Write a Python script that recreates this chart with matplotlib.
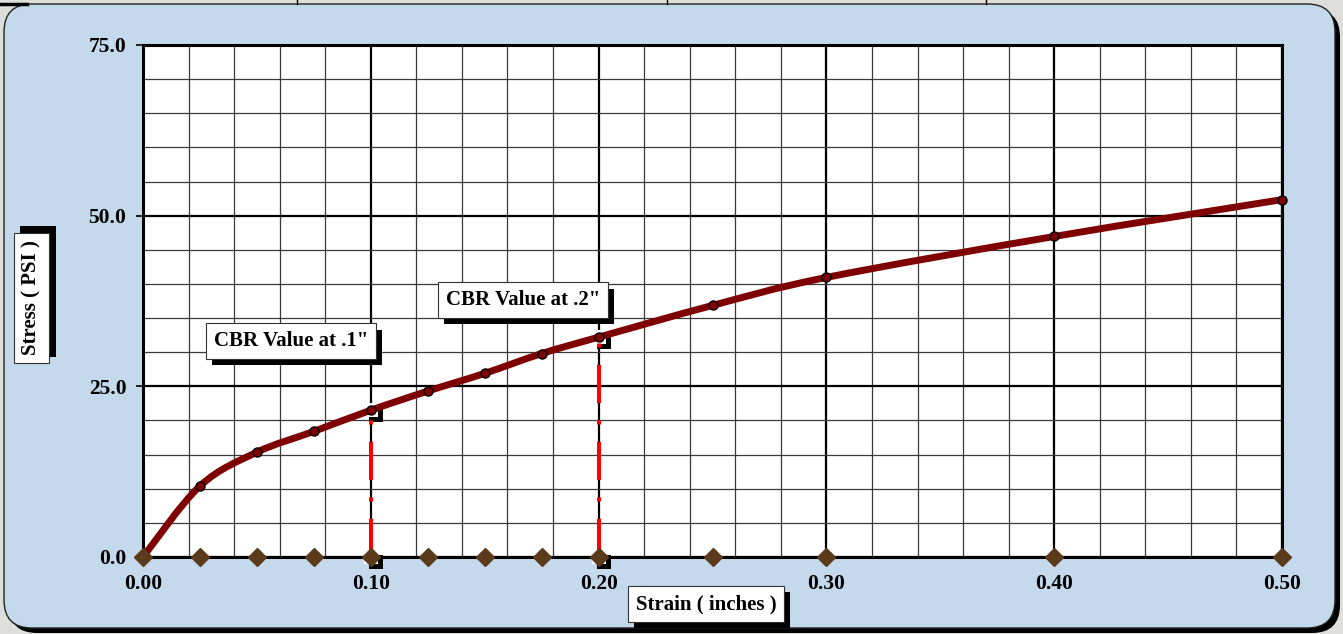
import numpy as np
import matplotlib
matplotlib.use("Agg")
import matplotlib.pyplot as plt
from matplotlib.patches import FancyBboxPatch, PathPatch
from matplotlib.path import Path
from matplotlib.lines import Line2D
import matplotlib.patheffects as pe
import matplotlib.transforms as mtransforms
from matplotlib.ticker import MultipleLocator, FormatStrFormatter

# ---------------- data ----------------
strain = [0.0, 0.025, 0.05, 0.075, 0.10, 0.125, 0.15, 0.175, 0.20, 0.25, 0.30, 0.40, 0.50]
stress = [0.0, 10.4, 15.35, 18.4, 21.5, 24.3, 26.9, 29.8, 32.2, 36.85, 40.95, 46.95, 52.35]
cbr_strain = [0.10, 0.20]
cbr_stress = [21.5, 32.2]
cbr_labels = ['CBR Value at .1"', 'CBR Value at .2"']
cbr_label_pos = [(0.065, 31.6), (0.1668, 37.6)]
x_label = "Strain ( inches )"
y_label = "Stress ( PSI )"

W, H, DPI = 1343, 634, 100
SERIF = ["Liberation Serif", "DejaVu Serif"]
plt.rcParams['font.family'] = SERIF
plt.rcParams['font.weight'] = 'bold'

fig = plt.figure(figsize=(W / DPI, H / DPI), dpi=DPI, facecolor="#DEDEDB")

# ---------------- background frame (pixel space) ----------------
bg = fig.add_axes([0, 0, 1, 1], zorder=-10)
bg.set_xlim(0, W)
bg.set_ylim(H, 0)
bg.axis("off")
bg.add_patch(FancyBboxPatch((9, 9), W - 12, H - 10,
                            boxstyle="round,pad=0,rounding_size=28",
                            facecolor="black", edgecolor="black", lw=0))
bg.add_patch(FancyBboxPatch((4, 4), W - 12, H - 10,
                            boxstyle="round,pad=0,rounding_size=28",
                            facecolor="#C5D9EC", edgecolor="#222222", lw=1.0))
bg.plot([0, 27], [4, 4], color="black", lw=2.5)
for xv in (297, 667, 986):
    bg.plot([xv, xv], [0, 4], color="black", lw=1)

# ---------------- main axes ----------------
ax = fig.add_axes([143 / W, 1 - 557 / H, (1282 - 143) / W, (557 - 45) / H])
ax.set_facecolor("white")
ax.set_xlim(0, 0.5)
ax.set_ylim(0, 75)

ax.xaxis.set_major_locator(MultipleLocator(0.1))
ax.xaxis.set_minor_locator(MultipleLocator(0.02))
ax.yaxis.set_major_locator(MultipleLocator(25))
ax.yaxis.set_minor_locator(MultipleLocator(5))
ax.xaxis.set_major_formatter(FormatStrFormatter("%.2f"))
ax.yaxis.set_major_formatter(FormatStrFormatter("%.1f"))

ax.grid(which="major", color="black", lw=1.6)
ax.grid(which="minor", color="#3a3a3a", lw=0.9)
ax.set_axisbelow(True)
for s in ax.spines.values():
    s.set_linewidth(2.2)
    s.set_color("black")

ax.tick_params(axis="x", which="both", length=0, pad=12, labelsize=15.5)
ax.tick_params(axis="y", which="major", length=5, width=1.2, direction="out", pad=7, labelsize=15.5)
ax.tick_params(axis="y", which="minor", length=0)
for lab in ax.get_xticklabels() + ax.get_yticklabels():
    lab.set_fontweight("bold")

# ---------------- smoothed curve (Excel-style Bezier) ----------------
px = np.array(strain)
py = np.array(stress)
n = len(px)
verts = [(px[0], py[0])]
codes = [Path.MOVETO]
for i in range(n - 1):
    p0 = np.array([px[max(i - 1, 0)], py[max(i - 1, 0)]])
    p1 = np.array([px[i], py[i]])
    p2 = np.array([px[i + 1], py[i + 1]])
    p3 = np.array([px[min(i + 2, n - 1)], py[min(i + 2, n - 1)]])
    c1 = p1 + (p2 - p0) / 6.0
    c2 = p2 - (p3 - p1) / 6.0
    verts += [tuple(c1), tuple(c2), tuple(p2)]
    codes += [Path.CURVE4] * 3
curve = PathPatch(Path(verts, codes), fill=False, edgecolor="#7F0000",
                  lw=5.0, capstyle="round", joinstyle="round", zorder=5)
ax.add_patch(curve)

# ---------------- red dash-dot verticals ----------------
for xv, yv in zip(cbr_strain, cbr_stress):
    ax.add_line(Line2D([xv, xv], [0, yv], color="#FF0000", lw=2.9,
                       dashes=(9.5, 4.3, 1.0, 4.3), dash_capstyle="butt",
                       zorder=3))

# ---------------- white squares with black shadow ----------------
sq_x = cbr_strain + cbr_strain
sq_y = [0, 0] + cbr_stress
shadow_tr = mtransforms.offset_copy(ax.transData, fig=fig, x=5, y=-5, units="dots")
ax.plot(sq_x, sq_y, ls="none", marker="s", ms=9.5, mfc="black", mec="black",
        mew=0, zorder=2.5, clip_on=False, transform=shadow_tr)
ax.plot(sq_x, sq_y, ls="none", marker="s", ms=9.5, mfc="white", mec="white",
        mew=0, zorder=2.6, clip_on=False)

# ---------------- markers ----------------
ax.plot(strain, stress, ls="none", marker="o", ms=6.5, mfc="#7F0000", mec="black",
        mew=1.0, zorder=6, clip_on=False)
ax.plot(strain, [0] * len(strain), ls="none", marker="D", ms=9.5, mfc="#5B3A1C",
        mec="#5B3A1C", zorder=7, clip_on=False)

# ---------------- text boxes with shadows ----------------
def shadow_box(txt, offset):
    bp = txt.get_bbox_patch()
    bp.set_path_effects([pe.SimplePatchShadow(offset=offset, shadow_rgbFace="black", alpha=1),
                         pe.Normal()])

BOX = dict(boxstyle="square,pad=0.38", fc="white", ec="#333333", lw=0.8)
for lab, (lx, ly) in zip(cbr_labels, cbr_label_pos):
    t = ax.text(lx, ly, lab, ha="center", va="center", fontsize=15, fontweight="bold",
                zorder=8, bbox=BOX)
    shadow_box(t, (4.5, -4.5))

tx = fig.text(706 / W, 1 - 604 / H, x_label, ha="center", va="center", fontsize=15,
              fontweight="bold", bbox=BOX)
shadow_box(tx, (4.5, -4.5))
ty = fig.text(31.5 / W, 1 - 298 / H, y_label, ha="center", va="center", rotation=90,
              fontsize=15, fontweight="bold", bbox=BOX)
shadow_box(ty, (4.5, 4.5))

fig.savefig("out.png", dpi=DPI, facecolor=fig.get_facecolor())
